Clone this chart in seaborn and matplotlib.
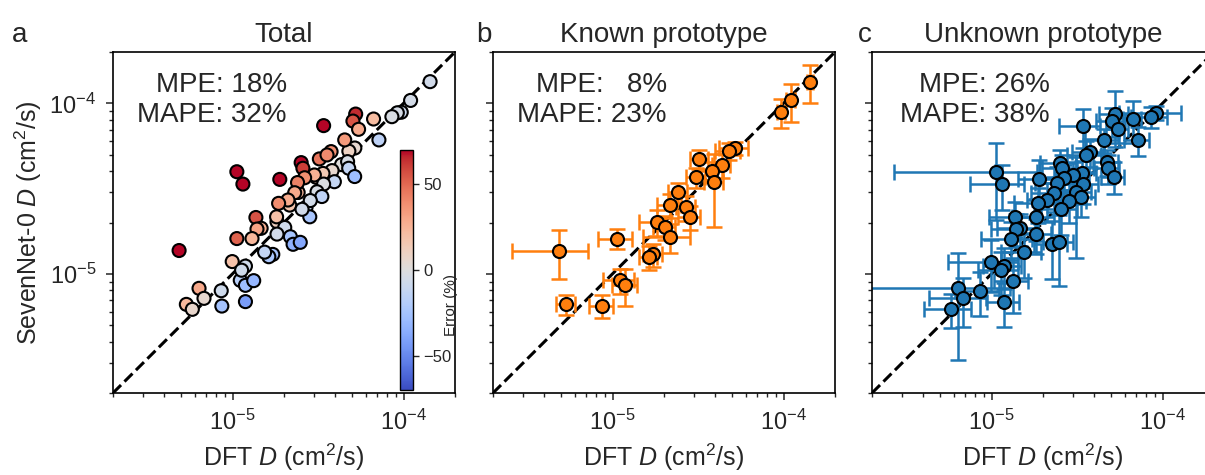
import numpy as np
import pandas as pd
import matplotlib
matplotlib.use("Agg")
import matplotlib.pyplot as plt
import seaborn as sns
from matplotlib.ticker import NullFormatter
from matplotlib.colors import Normalize
from matplotlib.cm import ScalarMappable

# ---------------- data (cm^2/s) ----------------
titles = ["Total", "Known prototype", "Unknown prototype"]
panel_letters = ["a", "b", "c"]
mpe_values = [18, 8, 26]
mape_values = [32, 23, 38]

known_dft = [1.43e-4, 1.10e-4, 9.7e-5, 5.19e-5, 4.79e-5, 3.22e-5, 4.34e-5, 3.82e-5,
             3.09e-5, 3.94e-5, 2.42e-5, 2.16e-5, 2.69e-5, 2.83e-5, 1.82e-5, 2.02e-5,
             2.18e-5, 1.06e-5, 4.87e-6, 1.72e-5, 1.63e-5, 1.11e-5, 1.19e-5, 5.37e-6, 8.66e-6]
known_pred = [1.34e-4, 1.04e-4, 8.87e-5, 5.47e-5, 5.24e-5, 4.72e-5, 4.37e-5, 4.03e-5,
              3.68e-5, 3.47e-5, 3.0e-5, 2.53e-5, 2.45e-5, 2.16e-5, 2.02e-5, 1.87e-5,
              1.65e-5, 1.61e-5, 1.37e-5, 1.30e-5, 1.26e-5, 9.16e-6, 8.56e-6, 6.62e-6, 6.47e-6]
known_dft_err = [5e-6, 6e-6, 5e-6, 1.0e-5, 8e-6, 4e-6, 5e-6, 6e-6,
                 4e-6, 5e-6, 3e-6, 3.5e-6, 3.5e-6, 4e-6, 3.9e-6, 3e-6,
                 6.7e-6, 2.4e-6, 2.27e-6, 2.2e-6, 2e-6, 2.3e-6, 2e-6, 0.7e-6, 1.4e-6]
known_pred_err = [3.3e-5, 2.6e-5, 1.7e-5, 5e-6, 6e-6, 6e-6, 7e-6, 5e-6,
                  5e-6, 1.6e-5, 4e-6, 4e-6, 4e-6, 3.5e-6, 3.5e-6, 3e-6,
                  3.2e-6, 2.2e-6, 4.35e-6, 2e-6, 2e-6, 1.5e-6, 2.1e-6, 0.9e-6, 1e-6]

unknown_dft = [9.2e-5, 8.55e-5, 6.68e-5, 5.25e-5, 5.06e-5, 5.46e-5, 3.41e-5, 7.18e-5,
               4.53e-5, 3.77e-5, 3.57e-5, 4.71e-5, 4.78e-5, 5.18e-5, 2.52e-5, 2.58e-5,
               3.38e-5, 3.01e-5, 2.64e-5, 1.89e-5, 1.06e-5, 1.15e-5, 3.41e-5, 2.40e-5,
               3.12e-5, 2.31e-5, 3.33e-5, 2.85e-5, 2.11e-5, 1.86e-5, 2.55e-5, 1.81e-5,
               1.37e-5, 1.47e-5, 1.39e-5, 1.82e-5, 1.30e-5, 2.26e-5, 2.49e-5, 1.54e-5,
               9.96e-6, 1.19e-5, 1.13e-5, 1.33e-5, 8.59e-6, 6.37e-6, 6.81e-6, 1.19e-5, 5.82e-6]
unknown_pred = [8.8e-5, 8.35e-5, 8.09e-5, 8.65e-5, 7.87e-5, 7.04e-5, 7.40e-5, 6.10e-5,
                6.10e-5, 5.21e-5, 4.98e-5, 4.55e-5, 4.16e-5, 3.72e-5, 4.49e-5, 4.16e-5,
                3.88e-5, 3.80e-5, 3.66e-5, 3.58e-5, 3.97e-5, 3.36e-5, 3.36e-5, 3.43e-5,
                3.03e-5, 2.99e-5, 2.84e-5, 2.69e-5, 2.71e-5, 2.59e-5, 2.39e-5, 2.16e-5,
                2.14e-5, 1.85e-5, 1.83e-5, 1.71e-5, 1.61e-5, 1.49e-5, 1.53e-5, 1.34e-5,
                1.18e-5, 1.11e-5, 1.05e-5, 9.12e-6, 7.96e-6, 8.22e-6, 7.18e-6, 6.87e-6, 6.19e-6]
unknown_dft_err = [3.6e-5, 2e-5, 8e-6, 1e-5, 1e-5, 8e-6, 9.2e-6, 1.2e-5,
                   1e-5, 8e-6, 8e-6, 8e-6, 8e-6, 8e-6, 6e-6, 6e-6,
                   7e-6, 7e-6, 7e-6, 4.6e-6, 7.9e-6, 4e-6, 8e-6, 6e-6,
                   7e-6, 6e-6, 7e-6, 7e-6, 5e-6, 5e-6, 6e-6, 5e-6,
                   4e-6, 4e-6, 4e-6, 4e-6, 4.3e-6, 5e-6, 5e-6, 4e-6,
                   4.4e-6, 3e-6, 3e-6, 3e-6, 2.5e-6, 6.5e-6, 2.5e-6, 2.5e-6, 1.8e-6]
unknown_pred_err = [8e-6, 1.2e-5, 2.2e-5, 3.1e-5, 1.5e-5, 1.2e-5, 1.9e-5, 1.2e-5,
                    1e-5, 1e-5, 1e-5, 8e-6, 8e-6, 8e-6, 8e-6, 8e-6,
                    7e-6, 7e-6, 7e-6, 1.07e-5, 1.9e-5, 1e-5, 8e-6, 8e-6,
                    1.8e-5, 7e-6, 7e-6, 7e-6, 7e-6, 6e-6, 7e-6, 6e-6,
                    5e-6, 4e-6, 4e-6, 4e-6, 4e-6, 5.6e-6, 6.8e-6, 4e-6,
                    4e-6, 3e-6, 3e-6, 3.2e-6, 2.3e-6, 5.1e-6, 2.3e-6, 2e-6, 1.4e-6]

# ---------------- style ----------------
sns.set_style("ticks")
plt.rcParams["font.family"] = ["Liberation Sans", "DejaVu Sans"]
plt.rcParams["mathtext.fontset"] = "custom"
plt.rcParams["mathtext.rm"] = "Liberation Sans"
plt.rcParams["mathtext.it"] = "Liberation Sans:italic"
plt.rcParams["mathtext.bf"] = "Liberation Sans:bold"
plt.rcParams["axes.unicode_minus"] = True

ORANGE = "#ff7f0e"
BLUE = "#1f77b4"
LIM = (2e-6, 2e-4)

W, H = 1205, 475
fig = plt.figure(figsize=(W / 100, H / 100), dpi=100)
lefts = [113, 493, 872]
axes = [fig.add_axes([l / W, (H - 393) / H, 342 / W, 341 / H]) for l in lefts]

df_total = pd.DataFrame({
    "dft": known_dft + unknown_dft,
    "pred": known_pred + unknown_pred,
})
df_total["err"] = (df_total["pred"] - df_total["dft"]) / df_total["dft"] * 100

for i, ax in enumerate(axes):
    ax.set_xscale("log")
    ax.set_yscale("log")
    ax.plot(LIM, LIM, color="black", ls="--", lw=2.2, zorder=1)

# panel a
sns.scatterplot(data=df_total, x="dft", y="pred", hue="err", palette="coolwarm",
                hue_norm=(-70, 70), s=88, edgecolor="black", linewidth=1.5,
                legend=False, ax=axes[0], zorder=3)

# panel b
axes[1].errorbar(known_dft, known_pred, xerr=known_dft_err, yerr=known_pred_err,
                 fmt="none", ecolor=ORANGE, elinewidth=1.8, capsize=6, capthick=1.8, zorder=2)
sns.scatterplot(x=known_dft, y=known_pred, color=ORANGE, s=88, edgecolor="black",
                linewidth=1.5, ax=axes[1], zorder=3)

# panel c
axes[2].errorbar(unknown_dft, unknown_pred, xerr=unknown_dft_err, yerr=unknown_pred_err,
                 fmt="none", ecolor=BLUE, elinewidth=1.8, capsize=6, capthick=1.8, zorder=2)
sns.scatterplot(x=unknown_dft, y=unknown_pred, color=BLUE, s=88, edgecolor="black",
                linewidth=1.5, ax=axes[2], zorder=3)

text_x = [0.508, 0.508, 0.52]
for i, ax in enumerate(axes):
    ax.set_xlim(*LIM)
    ax.set_ylim(*LIM)
    ax.set_title(titles[i], fontsize=20, pad=7)
    ax.set_xlabel("DFT $D$ (cm$^2$/s)", fontsize=18, labelpad=5)
    ax.xaxis.set_minor_formatter(NullFormatter())
    ax.yaxis.set_minor_formatter(NullFormatter())
    ax.tick_params(which="major", length=5, width=1.1, labelsize=17, direction="out", pad=7)
    ax.tick_params(which="minor", length=3, width=1.0, direction="out")
    for sp in ax.spines.values():
        sp.set_linewidth(1.2)
        sp.set_color("black")
    if i == 0:
        ax.set_ylabel("SevenNet-0 $D$ (cm$^2$/s)", fontsize=18)
    else:
        ax.set_ylabel("")
        ax.tick_params(labelleft=False)
    mpe = f"MPE: {mpe_values[i]}%" if mpe_values[i] >= 10 else f"MPE:   {mpe_values[i]}%"
    ax.text(text_x[i], 0.8836, mpe, transform=ax.transAxes, ha="right",
            va="baseline", fontsize=20)
    ax.text(text_x[i], 0.7956, f"MAPE: {mape_values[i]}%", transform=ax.transAxes,
            ha="right", va="baseline", fontsize=20)

letter_x = [12, 476, 858]
for lx, letter in zip(letter_x, panel_letters):
    fig.text(lx / W, 1 - 42 / H, letter, fontsize=20, ha="left", va="baseline")

# colorbar inside panel a
cax = axes[0].inset_axes([0.839, 0.009, 0.038, 0.704])
sm = ScalarMappable(norm=Normalize(-70, 70), cmap="coolwarm")
cb = fig.colorbar(sm, cax=cax, ticks=[-50, 0, 50])
cb.outline.set_linewidth(1.0)
cb.outline.set_edgecolor("black")
cax.tick_params(labelsize=12, length=4, width=1)
cax.text(3.9, 0.354, "Error (%)", transform=cax.transAxes, rotation=90,
         ha="center", va="center", fontsize=11)

fig.savefig("out.png", dpi=100)
